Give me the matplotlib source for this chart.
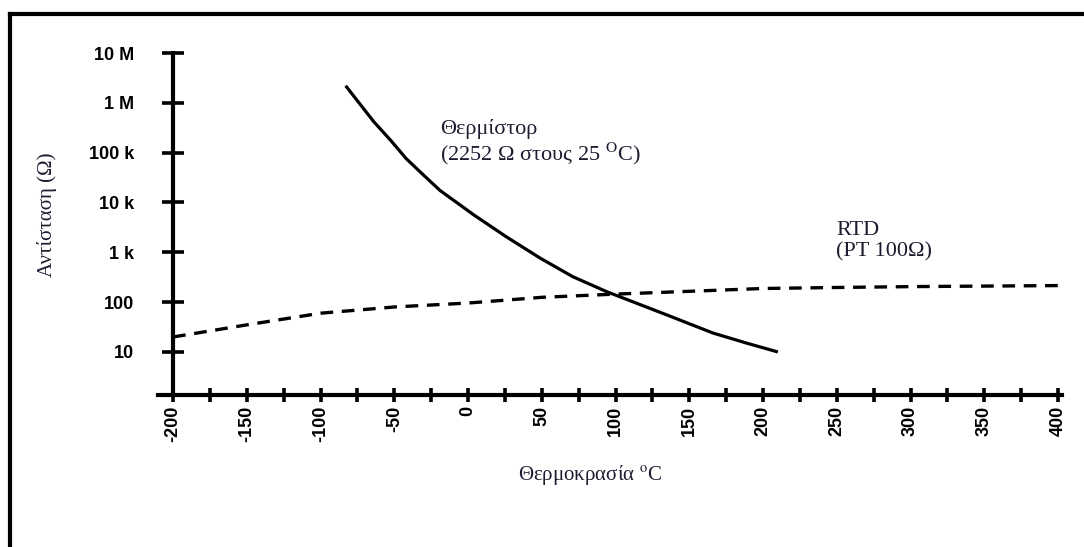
import matplotlib.pyplot as plt
from matplotlib.lines import Line2D

# Thermistor (2252 ohm @ 25 C)
therm_t = [-83, -64, -52, -42, -30, -19, 4, 26, 49, 71, 94, 135, 166, 189, 210]
therm_r = [2.2e6, 4.2e5, 1.7e5, 7.6e4, 3.5e4, 1.74e4, 5.6e3, 2.04e3, 760, 324, 162,
           55, 24, 15, 10]

# RTD (PT100)
rtd_t = [-200, -150, -100, -50, 0, 50, 100, 150, 200, 250, 300, 350, 400]
rtd_r = [20, 35, 60, 80, 96, 125, 145, 165, 188, 197, 205, 210, 215]

y_ticks = [10, 100, 1e3, 1e4, 1e5, 1e6, 1e7]
y_labels = ["10", "100", "1 k", "10 k", "100 k", "1 M", "10 M"]
x_ticks = list(range(-200, 401, 50))
x_minor = list(range(-175, 400, 50))

txt_color = "#1c1c30"
plt.rcParams["mathtext.fontset"] = "stix"

fig = plt.figure(figsize=(10.84, 5.47), dpi=100)
ax = fig.add_axes([0.1458, 0.2779, 0.834, 0.6252])

ax.plot(therm_t, therm_r, color="black", lw=2.3, solid_capstyle="butt",
        solid_joinstyle="round")
ax.plot(rtd_t, rtd_r, color="black", lw=2.4, linestyle=(0, (3.8, 2.6)))

ax.set_yscale("log")
ax.set_ylim(1.37, 1e7)
ax.set_xlim(-210.2, 402.7)

for s in ["top", "right"]:
    ax.spines[s].set_visible(False)
ax.spines["left"].set_position(("data", -200))
ax.spines["left"].set_linewidth(3)
ax.spines["bottom"].set_linewidth(3)

ax.set_yticks(y_ticks)
ax.set_yticklabels(y_labels)
ax.yaxis.set_minor_locator(plt.NullLocator())
ax.tick_params(axis="y", direction="inout", length=16, width=2.6, pad=20,
               labelsize=13)
ax.set_xticks(x_ticks)
ax.set_xticklabels([str(v) for v in x_ticks], rotation=90)
ax.set_xticks(x_minor, minor=True)
ax.tick_params(axis="x", which="both", direction="inout", length=10, width=2.6,
               pad=3, labelsize=13)
for lab in ax.get_xticklabels() + ax.get_yticklabels():
    lab.set_fontweight("bold")
    lab.set_family("Liberation Sans")

serif = "Liberation Serif"
fig.text(0.544, 0.132, r"Θερμοκρασία $^{\mathrm{o}}$C", ha="center", va="center",
         family=serif, fontsize=15, color=txt_color)
fig.text(0.043, 0.607, "Αντίσταση (Ω)", rotation=90, ha="center", va="center",
         family=serif, fontsize=15, color=txt_color)

ax.text(-19, 4.7e5, "Θερμίστορ\n" + r"(2252 Ω στους 25 $^{\mathrm{O}}$C)", ha="left",
        va="top", family=serif, fontsize=16, color=txt_color, linespacing=1.1)
ax.text(249.5, 4.3e3, "RTD\n(PT 100Ω)", ha="left", va="top", family=serif,
        fontsize=16, color=txt_color, linespacing=1.15)

# outer frame (top and left edges visible)
fig.add_artist(Line2D([10 / 1084, 1.0], [1 - 14 / 547, 1 - 14 / 547], color="black",
                      lw=3, transform=fig.transFigure))
fig.add_artist(Line2D([10 / 1084, 10 / 1084], [1 - 14 / 547, 0.0], color="black",
                      lw=3, transform=fig.transFigure))

fig.savefig("out.png", dpi=100)
